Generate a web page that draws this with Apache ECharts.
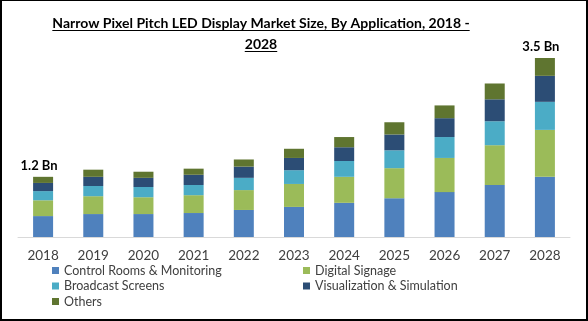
<!DOCTYPE html>
<html>
<head>
<meta charset="utf-8">
<script src="https://cdn.jsdelivr.net/npm/echarts@6/dist/echarts.min.js"></script>
<style>
  html, body { margin: 0; padding: 0; background: #fff; }
  #wrap { position: relative; width: 588px; height: 321px; }
  #chart { position: absolute; left: 0; top: 0; width: 588px; height: 321px; }
  #frame { position: absolute; left: 0; top: 0; width: 588px; height: 321px; box-sizing: border-box;
           border-top: 1px solid #000; border-left: 2px solid #000; border-right: 2px solid #000; border-bottom: 2px solid #000;
           pointer-events: none; }
</style>
</head>
<body>
<div id="wrap"><div id="chart"></div><div id="frame"></div></div>
<script>
const years = ['2018','2019','2020','2021','2022','2023','2024','2025','2026','2027','2028'];
const controlRooms  = [0.41,0.45,0.45,0.47,0.53,0.59,0.67,0.76,0.88,1.02,1.18];
const digitalSignage= [0.31,0.35,0.33,0.35,0.39,0.45,0.51,0.59,0.67,0.78,0.92];
const broadcast     = [0.18,0.20,0.20,0.20,0.24,0.27,0.31,0.35,0.41,0.47,0.55];
const visualization = [0.16,0.18,0.18,0.20,0.22,0.24,0.27,0.31,0.37,0.43,0.51];
const others        = [0.12,0.14,0.12,0.12,0.14,0.18,0.20,0.24,0.25,0.31,0.35];
const totalLabels   = ['1.2 Bn','','','','','','','','','','3.5 Bn'];
const seriesNames = ['Control Rooms & Monitoring','Digital Signage','Broadcast Screens','Visualization & Simulation','Others'];
const colors = ['#4F81BD','#9BBB59','#4BACC6','#2C4D75','#5F7530'];

const FONT = 'Lato, "Noto Sans", sans-serif';
const titleLines = ['Narrow Pixel Pitch LED Display Market Size, By Application, 2018 -', '2028'];
const titleSize = 14;
const titleCx = 261, titleTop = 13, titleLH = 21;

const chart = echarts.init(document.getElementById('chart'), null, {renderer: 'canvas'});

const dataSets = [controlRooms, digitalSignage, broadcast, visualization, others];
const series = dataSets.map((d, i) => ({
  name: seriesNames[i], type: 'bar', stack: 'total', data: d, barWidth: 20,
  itemStyle: { color: colors[i] },
  label: i === 4 ? {
    show: true, position: 'top', distance: 5, offset: [-4, 0],
    formatter: p => totalLabels[p.dataIndex],
    color: '#000', fontWeight: 'bold', fontSize: 13, fontFamily: FONT
  } : { show: false }
}));

const legendText = { color: '#404040', fontSize: 12.5, fontFamily: FONT, lineHeight: 15 };
chart.setOption({
  animation: false,
  title: titleLines.map((t, i) => ({
    text: t, left: titleCx, top: titleTop + titleLH * i, textAlign: 'center', padding: 0,
    textStyle: { fontSize: titleSize, fontWeight: 'bold', fontFamily: FONT, color: '#000', lineHeight: titleLH }
  })),
  legend: [
    { data: [seriesNames[0], seriesNames[2], seriesNames[4]], orient: 'vertical', left: 52, top: 263,
      itemWidth: 7, itemHeight: 7, itemGap: 0.5, icon: 'rect', textStyle: legendText, padding: 0 },
    { data: [seriesNames[1], seriesNames[3]], orient: 'vertical', left: 303, top: 263,
      itemWidth: 7, itemHeight: 7, itemGap: 0.5, icon: 'rect', textStyle: legendText, padding: 0 }
  ],
  grid: { left: 18, right: 18, top: 33, height: 204, containLabel: false },
  xAxis: {
    type: 'category', data: years,
    axisLine: { lineStyle: { color: '#D9D9D9', width: 1 } },
    axisTick: { show: false },
    axisLabel: { color: '#404040', fontSize: 13.5, fontFamily: FONT, margin: 12 }
  },
  yAxis: { type: 'value', min: 0, max: 4, show: false, splitLine: { show: false } },
  series: series
});

// underline the title lines using the rendered text extents (title area only)
const lines = [];
const done = {};
chart.getZr().storage.getDisplayList(true).forEach(el => {
  const txt = el.style && el.style.text;
  const idx = titleLines.indexOf(txt);
  if (idx >= 0 && !done[idx]) {
    const r = el.getBoundingRect().clone();
    if (el.transform) r.applyTransform(el.transform);
    if (r.y > 80) return;
    done[idx] = true;
    const y = Math.round(titleTop + titleLH * idx + titleLH / 2 + 6) + 0.5;
    lines.push({ type: 'line', shape: { x1: r.x, y1: y, x2: r.x + r.width, y2: y },
                 style: { stroke: '#000', lineWidth: 1 }, silent: true });
  }
});
chart.setOption({ graphic: lines });
</script>
</body>
</html>
